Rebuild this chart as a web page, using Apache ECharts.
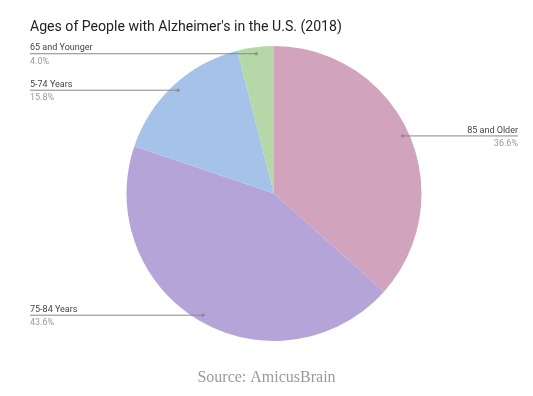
<!DOCTYPE html>
<html><head><meta charset="utf-8">
<script src="https://cdn.jsdelivr.net/npm/echarts@6/dist/echarts.min.js"></script>
<style>html,body{margin:0;padding:0;background:#fff}#c{width:533px;height:396px}</style>
</head><body><div id="c"></div>
<script>
const categories = ["85 and Older", "75-84 Years", "5-74 Years", "65 and Younger"];
const values = [36.6, 43.6, 15.8, 4.0];
const colors = ["#d1a3bd", "#b4a4d7", "#a5c3e8", "#b6d7a8"];

const CX = 274, CY = 193.5, R = 147.5, DOT_R = 0.955;
const chart = echarts.init(document.getElementById('c'), null, {renderer: 'canvas'});
const pieData = categories.map((c, i) => ({name: c, value: values[i], itemStyle: {color: colors[i]}}));
const total = values.reduce((a, b) => a + b, 0);
let acc = 0;
const dotData = values.map(v => { const mid = acc + v / 2; acc += v; return [DOT_R, mid / total * 100]; });

chart.setOption({
  animation: false,
  title: [{
    text: "Ages of People with Alzheimer's in the U.S. (2018)",
    left: 30, top: 20, padding: 0,
    textStyle: {fontFamily: 'Roboto', fontSize: 14.1, fontWeight: 'normal', color: '#222'}
  }, {
    text: 'Source: AmicusBrain',
    left: 'center', top: 365,
    textStyle: {fontFamily: 'Liberation Serif', fontSize: 16, fontWeight: 'normal', color: '#9a9a9a'}
  }],
  polar: {center: [CX, CY], radius: R},
  angleAxis: {type: 'value', min: 0, max: 100, startAngle: 90, clockwise: true, show: false},
  radiusAxis: {type: 'value', min: 0, max: 1, show: false},
  series: [{
    type: 'pie',
    center: [CX, CY],
    radius: [0, R],
    startAngle: 90,
    clockwise: true,
    z: 1,
    silent: true,
    data: pieData,
    label: {show: false},
    labelLine: {show: false}
  }, {
    type: 'pie',
    center: [CX, CY],
    radius: [0, R],
    startAngle: 90,
    clockwise: true,
    z: 5,
    silent: true,
    data: pieData.map(d => ({name: d.name, value: d.value, itemStyle: {color: 'rgba(0,0,0,0)'}})),
    label: {
      show: true,
      position: 'outside',
      formatter: p => '{n|' + p.name + '}\n{p|' + p.value.toFixed(1) + '%}',
      rich: {
        n: {fontFamily: 'Roboto', fontSize: 9, color: '#444', lineHeight: 16},
        p: {fontFamily: 'Roboto', fontSize: 9, color: '#999', lineHeight: 11}
      }
    },
    labelLine: {show: true, length: 5, length2: 5, lineStyle: {color: '#888', width: 1}},
    labelLayout: function (params) {
      const pts = params.labelLinePoints;
      if (!pts) return {};
      const p0 = pts[0];
      const ang = Math.atan2(p0[1] - CY, p0[0] - CX);
      const dx = CX + DOT_R * R * Math.cos(ang);
      const dy = CY + DOT_R * R * Math.sin(ang);
      const right = Math.cos(ang) > 0;
      const ex = right ? 518 : 30;
      return {
        x: ex, y: dy,
        align: right ? 'right' : 'left',
        verticalAlign: 'middle',
        labelLinePoints: [[dx, dy], [dx, dy], [ex, dy]]
      };
    }
  }, {
    type: 'scatter',
    coordinateSystem: 'polar',
    z: 6,
    silent: true,
    symbolSize: 3.5,
    itemStyle: {color: '#888'},
    data: dotData
  }]
});
</script></body></html>
